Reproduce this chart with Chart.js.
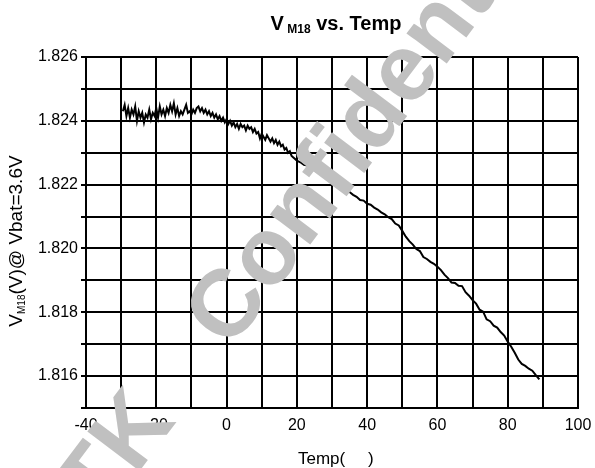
<!DOCTYPE html>
<html>
<head>
<meta charset="utf-8">
<script src="https://cdn.jsdelivr.net/npm/chart.js@4"></script>
<style>
  body { margin: 0; background: #fff; }
  #wrap { width: 595px; height: 468px; }
</style>
</head>
<body>
<div id="wrap"><canvas id="myChart" width="595" height="468"></canvas></div>
<script>
// temperature (C) and V_M18 (V)
const temps = [
  -29.5, -29, -28.5, -28, -27.5, -27, -26.5, -26, -25.5, -25,
  -24.5, -24, -23.5, -23, -22.5, -22, -21.5, -21, -20.5, -20,
  -19.5, -19, -18.5, -18, -17.5, -17, -16.5, -16, -15.5, -15,
  -14.5, -14, -13.5, -13, -12.5, -12, -11.5, -11, -10.5, -10,
  -9.5, -9, -8.5, -8, -7.5, -7, -6.5, -6, -5.5, -5,
  -4.5, -4, -3.5, -3, -2.5, -2, -1.5, -1, -0.5, 0,
  0.5, 1, 1.5, 2, 2.5, 3, 3.5, 4, 4.5, 5,
  5.5, 6, 6.5, 7, 7.5, 8, 8.5, 9, 9.5, 10,
  10.5, 11, 11.5, 12, 12.5, 13, 13.5, 14, 14.5, 15,
  15.5, 16, 16.5, 17, 17.5, 18, 18.5, 19, 19.5, 20,
  21, 22, 23, 24, 25, 26, 27, 28, 29, 30,
  31, 32, 33, 34, 35, 36, 37, 38, 39, 40,
  41, 42, 43, 44, 45, 46, 47, 48, 49, 50,
  51, 52, 53, 54, 55, 56, 57, 58, 59, 60,
  61, 62, 63, 64, 65, 66, 67, 68, 69, 70,
  71, 72, 73, 74, 75, 76, 77, 78, 79, 80,
  81, 82, 83, 84, 85, 86, 87, 88, 89
];
const vm18 = [
  1.82430, 1.82450, 1.82415, 1.82440, 1.82410, 1.82435, 1.82420, 1.82445, 1.82400, 1.82430,
  1.82410, 1.82425, 1.82395, 1.82420, 1.82410, 1.82435, 1.82405, 1.82425, 1.82415, 1.82440,
  1.82410, 1.82445, 1.82420, 1.82435, 1.82415, 1.82440, 1.82425, 1.82450, 1.82430, 1.82455,
  1.82420, 1.82440, 1.82415, 1.82430, 1.82420, 1.82435, 1.82450, 1.82425, 1.82430, 1.82420,
  1.82435, 1.82425, 1.82440, 1.82445, 1.82430, 1.82440, 1.82425, 1.82435, 1.82420, 1.82430,
  1.82415, 1.82425, 1.82410, 1.82420, 1.82405, 1.82415, 1.82400, 1.82410, 1.82395, 1.82405,
  1.82390, 1.82400, 1.82385, 1.82395, 1.82380, 1.82390, 1.82375, 1.82390, 1.82380, 1.82385,
  1.82370, 1.82385, 1.82375, 1.82380, 1.82365, 1.82375, 1.82360, 1.82365, 1.82345, 1.82360,
  1.82350, 1.82340, 1.82355, 1.82345, 1.82335, 1.82345, 1.82330, 1.82340, 1.82325, 1.82335,
  1.82320, 1.82325, 1.82310, 1.82315, 1.82300, 1.82305, 1.82290, 1.82285, 1.82280, 1.82275,
  1.82270, 1.82262, 1.82260, 1.82248, 1.82245, 1.82238, 1.82235, 1.82222, 1.82220, 1.82210,
  1.82207, 1.82198, 1.82192, 1.82183, 1.82177, 1.82168, 1.82162, 1.82152, 1.82150, 1.82140,
  1.82137, 1.82128, 1.82122, 1.82113, 1.82107, 1.82098, 1.82092, 1.82078, 1.82072, 1.82055,
  1.82037, 1.82023, 1.82012, 1.81998, 1.81992, 1.81973, 1.81967, 1.81958, 1.81952, 1.81943,
  1.81932, 1.81918, 1.81907, 1.81893, 1.81892, 1.81883, 1.81882, 1.81863, 1.81852, 1.81838,
  1.81827, 1.81808, 1.81802, 1.81778, 1.81772, 1.81758, 1.81752, 1.81738, 1.81727, 1.81708,
  1.81692, 1.81673, 1.81652, 1.81638, 1.81632, 1.81623, 1.81617, 1.81603, 1.81590
];
const yMin = 1.815, yMax = 1.826, yStep = 0.001;
const xMin = -40, xMax = 100, xStep = 10;

const ctx = document.getElementById("myChart");
const font = '"Liberation Sans", Arial, sans-serif';

// draw a run of [text, size, bold, dy] pieces starting at x
function drawRun(c, parts, x, y) {
  parts.forEach((p) => {
    c.font = (p[2] ? "bold " : "") + p[1] + "px " + font;
    c.fillText(p[0], x, y + p[3]);
    x += c.measureText(p[0]).width;
  });
}
function runWidth(c, parts) {
  let w = 0;
  parts.forEach((p) => {
    c.font = (p[2] ? "bold " : "") + p[1] + "px " + font;
    w += c.measureText(p[0]).width;
  });
  return w;
}

const textPlugin = {
  id: "texts",
  afterDraw(chart) {
    const c = chart.ctx;
    c.save();
    c.fillStyle = "#000";
    c.textBaseline = "alphabetic";
    c.textAlign = "left";

    // title
    const title = [["V", 20, true, 0], [" M18", 12, true, 3], [" vs. Temp", 20, true, 0]];
    drawRun(c, title, 336 - runWidth(c, title) / 2, 30);

    // x axis title
    drawRun(c, [["Temp(", 17, false, 0]], 298, 464);
    drawRun(c, [[")", 17, false, 0]], 368, 464);

    // y axis title
    c.translate(22, 241);
    c.rotate(-Math.PI / 2);
    const yt = [["V", 19, false, 0], ["M18", 10, false, 3], ["(V)@ Vbat=3.6V", 19, false, 0]];
    drawRun(c, yt, -runWidth(c, yt) / 2, 0);
    c.restore();

    // watermark
    c.save();
    c.fillStyle = "#c0c0c0";
    c.font = "bold 95px " + font;
    c.translate(230, 351);
    c.rotate(-53 * Math.PI / 180);
    c.textAlign = "left";
    c.fillText("Confidential", 0, 0);
    c.textAlign = "right";
    c.fillText("MTK", -88, 0);
    c.restore();
  }
};

const chart = new Chart(ctx, {
  type: "line",
  data: {
    labels: temps,
    datasets: [
      {
        label: "VM18",
        data: temps.map((t, i) => ({ x: t, y: vm18[i] })),
        borderColor: "#000",
        borderWidth: 2,
        pointRadius: 0,
        tension: 0,
      },
    ],
  },
  options: {
    responsive: false,
    animation: false,
    layout: { padding: { top: 57, right: 17, left: 0, bottom: 0 } },
    plugins: { legend: { display: false }, title: { display: false }, tooltip: { enabled: false } },
    scales: {
      x: {
        type: "linear",
        min: xMin,
        max: xMax,
        afterFit: (s) => { s.height = 60; s.paddingLeft = 0; s.paddingRight = 0; },
        ticks: {
          stepSize: xStep,
          autoSkip: false,
          maxRotation: 0,
          padding: 8,
          color: "#000",
          font: { family: font, size: 16 },
          callback: (v) => (Math.round(v) % 20 === 0 ? String(Math.round(v)) : ""),
        },
        grid: { color: "#000", lineWidth: 2, drawTicks: false },
        border: { color: "#000", width: 2 },
      },
      y: {
        min: yMin,
        max: yMax,
        afterFit: (s) => { s.width = 86; s.paddingTop = 0; s.paddingBottom = 0; },
        ticks: {
          stepSize: yStep,
          autoSkip: false,
          padding: 3,
          color: "#000",
          font: { family: font, size: 16 },
          callback: (v) => (Math.round(v * 1000) % 2 === 0 ? v.toFixed(3) : ""),
        },
        grid: { color: "#000", lineWidth: 2, tickLength: 5 },
        border: { color: "#000", width: 2 },
      },
    },
  },
  plugins: [textPlugin],
});
</script>
</body>
</html>
